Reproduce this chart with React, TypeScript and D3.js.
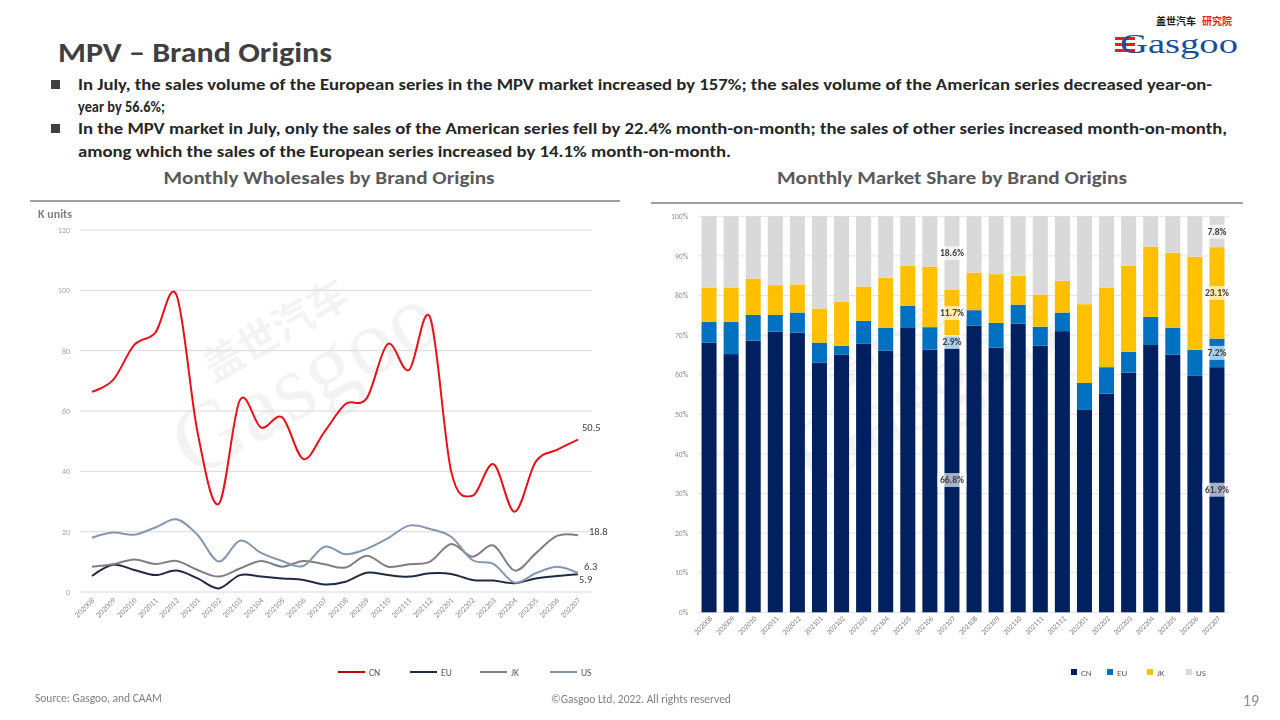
import React from "react";
import * as d3 from "d3";

const months = ["202008","202009","202010","202011","202012","202101","202102","202103","202104","202105","202106","202107","202108","202109","202110","202111","202112","202201","202202","202203","202204","202205","202206","202207"];

// Monthly wholesales, K units
const cnSales = [66.4,70.3,81.9,86.0,98.4,52.7,29.2,63.6,54.5,57.9,44.1,53.1,62.3,64.2,82.2,73.6,91.0,39.9,31.9,42.4,26.6,43.2,47.1,50.5];
const euSales = [5.3,9.0,7.3,5.6,7.1,4.5,1.2,5.6,5.1,4.5,4.0,2.5,3.4,6.4,5.6,5.1,6.2,6.0,4.0,3.8,2.9,4.5,5.3,5.9];
const jkSales = [8.4,9.2,10.8,9.3,10.3,7.3,5.1,7.8,10.3,8.4,10.3,9.2,8.1,12.0,8.4,9.2,10.1,15.9,11.7,15.4,7.1,12.8,18.6,18.8];
const usSales = [18.0,19.7,19.0,21.4,24.1,18.9,10.1,17.0,13.0,10.3,8.6,15.0,12.5,14.3,17.8,22.0,20.9,18.3,10.6,9.3,3.1,6.2,8.4,6.3];

// Monthly market share, %
const cnShare = [68.1,65.2,68.6,70.9,70.6,63.0,65.1,67.8,66.1,71.8,66.3,66.8,72.4,66.8,72.9,67.3,71.0,51.1,55.2,60.5,67.5,65.1,59.7,61.9];
const euShare = [5.2,8.1,6.5,4.2,5.1,5.1,2.2,5.8,5.7,5.6,5.7,2.9,3.9,6.3,4.8,4.8,4.7,6.8,6.7,5.3,7.1,6.8,6.6,7.2];
const jkShare = [8.7,8.7,9.1,7.5,7.1,8.6,11.1,8.6,12.7,10.1,15.3,11.7,9.5,12.3,7.3,8.1,8.0,19.9,20.1,21.7,17.7,18.9,23.5,23.1];
const usShare = [18.0,18.0,15.8,17.4,17.2,23.3,21.6,17.8,15.5,12.5,12.7,18.6,14.2,14.6,15.0,19.8,16.3,22.2,18.0,12.5,7.7,9.2,10.2,7.8];

const salesTicks = [0,20,40,60,80,100,120];
const shareTicks = [0,10,20,30,40,50,60,70,80,90,100];
const seriesNames = ["CN","EU","JK","US"];
const lineColors = ["#e8101a","#1f2a44","#7f7f7f","#8497b0"];
const barColors = ["#002060","#0070c0","#ffc000","#d9d9d9"];
const labeledMonths = ["202107","202207"];

const FONT = "Carlito, Lato, 'Open Sans', sans-serif";

export default function App() {
  // Left chart scales
  const xL = d3.scalePoint<string>().domain(months).range([92, 578]);
  const yL = d3.scaleLinear().domain([0, 120]).range([592, 230]);
  const line = d3.line<number>()
    .x((_, i) => xL(months[i]) as number)
    .y((v) => yL(v))
    .curve(d3.curveCatmullRom.alpha(0));
  const salesSeries = [cnSales, euSales, jkSales, usSales];

  // Right chart scales
  const xR = d3.scaleBand<string>().domain(months).range([698, 1228]).paddingInner(0.32).paddingOuter(0.16);
  const yR = d3.scaleLinear().domain([0, 100]).range([612.3, 216.3]);
  const shareSeries = [cnShare, euShare, jkShare, usShare];
  const table = months.map((m, i) => ({ m, CN: cnShare[i], EU: euShare[i], JK: jkShare[i], US: usShare[i] }));
  const stacked = d3.stack<any>().keys(seriesNames)(table);

  const endLabels = [
    { v: cnSales[23], dx: 4, dy: -13, t: "50.5" },
    { v: jkSales[23], dx: 11, dy: -4, t: "18.8" },
    { v: usSales[23], dx: 6, dy: -7, t: "6.3" },
    { v: euSales[23], dx: 1, dy: 5, t: "5.9" },
  ];

  return (
    <svg width={1280} height={720} style={{ display: "block", position: "absolute", left: 0, top: 0, fontFamily: FONT }}>
      <rect width={1280} height={720} fill="#fff" />

      {/* Logo */}
      <g>
        <text x={1156} y={25} fontSize={10} fontWeight={700} fill="#1a1a1a" fontFamily="'Noto Sans CJK SC', sans-serif">盖世汽车</text>
        <text x={1202} y={25} fontSize={10} fontWeight={700} fill="#e31e24" fontFamily="'Noto Sans CJK SC', sans-serif">研究院</text>
        <rect x={1115} y={37} width={20} height={3} fill="#e31e24" />
        <rect x={1115} y={43} width={20} height={3} fill="#e31e24" />
        <rect x={1115} y={49} width={20} height={3} fill="#e31e24" />
        <text x={1120} y={53} fontSize={27} fill="#1b4d9b" fontFamily="'Liberation Serif', 'DejaVu Serif', serif" textLength={118} lengthAdjust="spacingAndGlyphs">Gasgoo</text>
      </g>

      {/* Header */}
      <text x={58} y={62} fontSize={28} fontWeight={700} fill="#404040" textLength={274} lengthAdjust="spacingAndGlyphs">MPV – Brand Origins</text>
      <rect x={51} y={80} width={9} height={9} fill="#404040" />
      <rect x={51} y={124} width={9} height={9} fill="#404040" />
      <g fontSize={15} fontWeight={700} fill="#262626">
        <text x={78} y={90} textLength={1134} lengthAdjust="spacingAndGlyphs">In July, the sales volume of the European series in the MPV market increased by 157%; the sales volume of the American series decreased year-on-</text>
        <text x={78} y={112} textLength={87} lengthAdjust="spacingAndGlyphs">year by 56.6%;</text>
        <text x={78} y={134} textLength={1149} lengthAdjust="spacingAndGlyphs">In the MPV market in July, only the sales of the American series fell by 22.4% month-on-month; the sales of other series increased month-on-month,</text>
        <text x={78} y={157} textLength={653} lengthAdjust="spacingAndGlyphs">among which the sales of the European series increased by 14.1% month-on-month.</text>
      </g>

      {/* Chart titles */}
      <text x={329} y={184} fontSize={17} fontWeight={600} fill="#595959" textAnchor="middle" textLength={331} lengthAdjust="spacingAndGlyphs">Monthly Wholesales by Brand Origins</text>
      <text x={952} y={184} fontSize={17} fontWeight={600} fill="#595959" textAnchor="middle" textLength={350} lengthAdjust="spacingAndGlyphs">Monthly Market Share by Brand Origins</text>
      <line x1={30} x2={620} y1={201} y2={201} stroke="#7f7f7f" strokeWidth={1.5} />
      <line x1={651} x2={1243} y1={203} y2={203} stroke="#7f7f7f" strokeWidth={1.5} />

      {/* Watermarks */}
      <g opacity={0.05} fill="#000">
        <g transform="translate(310,390) rotate(-30)">
          <text x={0} y={-55} fontSize={40} fontWeight={700} textAnchor="middle" fontFamily="'Noto Sans CJK SC', sans-serif">盖世汽车</text>
          <text x={0} y={20} fontSize={95} textAnchor="middle" fontFamily="'Liberation Serif', serif">Gasgoo</text>
        </g>
        <g transform="translate(930,400) rotate(-30)">
          <text x={0} y={-55} fontSize={40} fontWeight={700} textAnchor="middle" fontFamily="'Noto Sans CJK SC', sans-serif">盖世汽车</text>
          <text x={0} y={20} fontSize={95} textAnchor="middle" fontFamily="'Liberation Serif', serif">Gasgoo</text>
        </g>
      </g>

      {/* Left chart */}
      <text x={38} y={218} fontSize={12} fontWeight={700} fill="#7f7f7f">K units</text>
      {salesTicks.map((t) => (
        <g key={t}>
          <line x1={80} x2={592} y1={yL(t)} y2={yL(t)} stroke="#d9d9d9" strokeWidth={1} />
          <text x={70} y={yL(t) + 3} fontSize={8} fill="#a6a6a6" textAnchor="end">{t}</text>
        </g>
      ))}
      {months.map((m) => (
        <text key={m} fontSize={8} fill="#8c8c8c" textAnchor="end"
          transform={`translate(${(xL(m) as number) + 3},${601}) rotate(-45)`}>{m}</text>
      ))}
      {salesSeries.map((s, i) => (
        <path key={i} d={line(s) as string} fill="none" stroke={lineColors[i]} strokeWidth={2} strokeLinejoin="round" />
      ))}
      {endLabels.map((l, i) => (
        <text key={i} x={578 + l.dx} y={yL(l.v) + l.dy + 4} fontSize={10.5} fill="#404040">{l.t}</text>
      ))}
      {/* Left legend */}
      {seriesNames.map((n, i) => {
        const lx = [338, 410, 480, 550][i];
        return (
          <g key={n}>
            <line x1={lx} x2={lx + 27} y1={672} y2={672} stroke={i === 0 ? "#c00000" : lineColors[i]} strokeWidth={2} />
            <text x={lx + 31} y={675.5} fontSize={9.5} fill="#595959">{n}</text>
          </g>
        );
      })}

      {/* Right chart */}
      {shareTicks.map((t) => (
        <g key={t}>
          <line x1={698} x2={1230} y1={yR(t)} y2={yR(t)} stroke="#e3e3e3" strokeWidth={1} />
          <text x={688} y={yR(t) + 2.7} fontSize={7.5} fill="#8c8c8c" textAnchor="end">{t}%</text>
        </g>
      ))}
      {stacked.map((layer, si) => (
        <g key={si} fill={barColors[si]}>
          {layer.map((d, i) => (
            <rect key={i} x={xR(months[i])} width={xR.bandwidth()} y={yR(d[1])} height={yR(d[0]) - yR(d[1])} />
          ))}
        </g>
      ))}
      {stacked.map((layer, si) =>
        layer.map((d, i) => {
          if (!labeledMonths.includes(months[i])) return null;
          const cx = (xR(months[i]) as number) + xR.bandwidth() / 2;
          const cy = yR((d[0] + d[1]) / 2);
          const txt = shareSeries[si][i].toFixed(1) + "%";
          const w = txt.length * 5.2 + 3;
          return (
            <g key={`l${si}-${i}`}>
              <rect x={cx - w / 2} y={cy - 7} width={w} height={14} fill="#fff" opacity={0.65} />
              <text x={cx} y={cy + 3.3} fontSize={9.5} fill="#404040" textAnchor="middle" fontWeight={600}>{txt}</text>
            </g>
          );
        })
      )}
      {months.map((m) => (
        <text key={m} fontSize={7.5} fill="#7f7f7f" textAnchor="end"
          transform={`translate(${(xR(m) as number) + xR.bandwidth() / 2 + 4},${619}) rotate(-45)`}>{m}</text>
      ))}
      {/* Right legend */}
      {seriesNames.map((n, i) => {
        const lx = [1071, 1107, 1147, 1186][i];
        return (
          <g key={n}>
            <rect x={lx} y={669} width={6} height={6} fill={barColors[i]} />
            <text x={lx + 10} y={675.5} fontSize={9} fill="#595959">{n}</text>
          </g>
        );
      })}

      {/* Footer */}
      <text x={35} y={702} fontSize={11.5} fill="#7f7f7f">Source: Gasgoo, and CAAM</text>
      <text x={641} y={703} fontSize={11.5} fill="#7f7f7f" textAnchor="middle">©Gasgoo Ltd,  2022. All rights reserved</text>
      <text x={1259} y={706} fontSize={16} fill="#8c8c8c" textAnchor="end">19</text>
    </svg>
  );
}
